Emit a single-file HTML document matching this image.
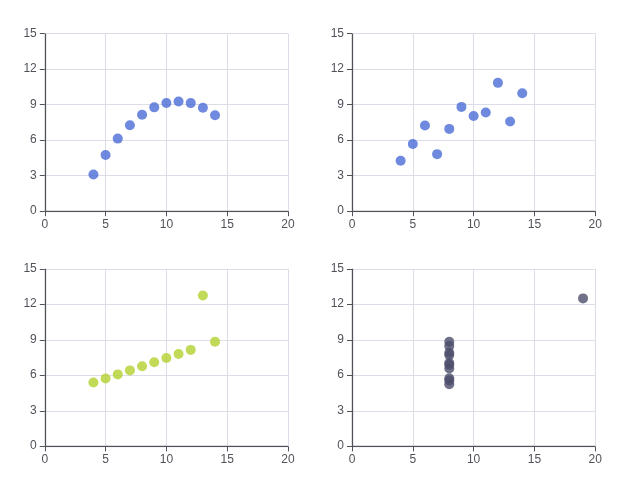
<!DOCTYPE html>
<html><head><meta charset="utf-8"><style>
html,body{margin:0;padding:0;background:#fff;}
svg{display:block;will-change:transform;}
text{font-family:"Liberation Sans",sans-serif;font-size:12px;fill:#50525A;}
</style></head><body>
<svg width="640" height="480" viewBox="0 0 640 480">
<rect width="640" height="480" fill="#fff"/>
<line x1="45.5" y1="33.6" x2="45.5" y2="211.2" stroke="#DCDDE6"/>
<line x1="105.5" y1="33.6" x2="105.5" y2="211.2" stroke="#DCDDE6"/>
<line x1="166.5" y1="33.6" x2="166.5" y2="211.2" stroke="#DCDDE6"/>
<line x1="227.5" y1="33.6" x2="227.5" y2="211.2" stroke="#DCDDE6"/>
<line x1="288.5" y1="33.6" x2="288.5" y2="211.2" stroke="#DCDDE6"/>
<line x1="44.8" y1="211.5" x2="288.0" y2="211.5" stroke="#DCDDE6"/>
<line x1="44.8" y1="175.5" x2="288.0" y2="175.5" stroke="#DCDDE6"/>
<line x1="44.8" y1="140.5" x2="288.0" y2="140.5" stroke="#DCDDE6"/>
<line x1="44.8" y1="104.5" x2="288.0" y2="104.5" stroke="#DCDDE6"/>
<line x1="44.8" y1="69.5" x2="288.0" y2="69.5" stroke="#DCDDE6"/>
<line x1="44.8" y1="33.5" x2="288.0" y2="33.5" stroke="#DCDDE6"/>
<line x1="44.5" y1="33.6" x2="44.5" y2="211.2" stroke="#50525A" stroke-opacity="0.18"/>
<line x1="46.5" y1="33.6" x2="46.5" y2="211.2" stroke="#50525A" stroke-opacity="0.12"/>
<line x1="44.8" y1="210.5" x2="288.0" y2="210.5" stroke="#50525A" stroke-opacity="0.2"/>
<line x1="44.8" y1="212.5" x2="288.0" y2="212.5" stroke="#50525A" stroke-opacity="0.06"/>
<line x1="45.5" y1="33.6" x2="45.5" y2="211.2" stroke="#50525A"/>
<line x1="44.8" y1="211.5" x2="288.0" y2="211.5" stroke="#50525A"/>
<line x1="45.5" y1="211.2" x2="45.5" y2="216.2" stroke="#50525A"/>
<text x="44.80" y="227.60" text-anchor="middle">0</text>
<line x1="105.5" y1="211.2" x2="105.5" y2="216.2" stroke="#50525A"/>
<text x="105.60" y="227.60" text-anchor="middle">5</text>
<line x1="166.5" y1="211.2" x2="166.5" y2="216.2" stroke="#50525A"/>
<text x="166.40" y="227.60" text-anchor="middle">10</text>
<line x1="227.5" y1="211.2" x2="227.5" y2="216.2" stroke="#50525A"/>
<text x="227.20" y="227.60" text-anchor="middle">15</text>
<line x1="288.5" y1="211.2" x2="288.5" y2="216.2" stroke="#50525A"/>
<text x="288.00" y="227.60" text-anchor="middle">20</text>
<line x1="39.8" y1="211.5" x2="44.8" y2="211.5" stroke="#50525A"/>
<text x="36.80" y="214.20" text-anchor="end">0</text>
<line x1="39.8" y1="175.5" x2="44.8" y2="175.5" stroke="#50525A"/>
<text x="36.80" y="178.68" text-anchor="end">3</text>
<line x1="39.8" y1="140.5" x2="44.8" y2="140.5" stroke="#50525A"/>
<text x="36.80" y="143.16" text-anchor="end">6</text>
<line x1="39.8" y1="104.5" x2="44.8" y2="104.5" stroke="#50525A"/>
<text x="36.80" y="107.64" text-anchor="end">9</text>
<line x1="39.8" y1="69.5" x2="44.8" y2="69.5" stroke="#50525A"/>
<text x="36.80" y="72.12" text-anchor="end">12</text>
<line x1="39.8" y1="33.5" x2="44.8" y2="33.5" stroke="#50525A"/>
<text x="36.80" y="36.60" text-anchor="end">15</text>
<circle cx="166.40" cy="102.98" r="5" fill="rgba(74,108,214,0.8)"/>
<circle cx="142.08" cy="114.82" r="5" fill="rgba(74,108,214,0.8)"/>
<circle cx="202.88" cy="107.72" r="5" fill="rgba(74,108,214,0.8)"/>
<circle cx="154.24" cy="107.36" r="5" fill="rgba(74,108,214,0.8)"/>
<circle cx="178.56" cy="101.56" r="5" fill="rgba(74,108,214,0.8)"/>
<circle cx="215.04" cy="115.30" r="5" fill="rgba(74,108,214,0.8)"/>
<circle cx="117.76" cy="138.62" r="5" fill="rgba(74,108,214,0.8)"/>
<circle cx="93.44" cy="174.50" r="5" fill="rgba(74,108,214,0.8)"/>
<circle cx="190.72" cy="103.10" r="5" fill="rgba(74,108,214,0.8)"/>
<circle cx="129.92" cy="125.24" r="5" fill="rgba(74,108,214,0.8)"/>
<circle cx="105.60" cy="155.08" r="5" fill="rgba(74,108,214,0.8)"/>
<line x1="352.5" y1="33.6" x2="352.5" y2="211.2" stroke="#DCDDE6"/>
<line x1="413.5" y1="33.6" x2="413.5" y2="211.2" stroke="#DCDDE6"/>
<line x1="473.5" y1="33.6" x2="473.5" y2="211.2" stroke="#DCDDE6"/>
<line x1="534.5" y1="33.6" x2="534.5" y2="211.2" stroke="#DCDDE6"/>
<line x1="595.5" y1="33.6" x2="595.5" y2="211.2" stroke="#DCDDE6"/>
<line x1="352" y1="211.5" x2="595.2" y2="211.5" stroke="#DCDDE6"/>
<line x1="352" y1="175.5" x2="595.2" y2="175.5" stroke="#DCDDE6"/>
<line x1="352" y1="140.5" x2="595.2" y2="140.5" stroke="#DCDDE6"/>
<line x1="352" y1="104.5" x2="595.2" y2="104.5" stroke="#DCDDE6"/>
<line x1="352" y1="69.5" x2="595.2" y2="69.5" stroke="#DCDDE6"/>
<line x1="352" y1="33.5" x2="595.2" y2="33.5" stroke="#DCDDE6"/>
<line x1="351.5" y1="33.6" x2="351.5" y2="211.2" stroke="#50525A" stroke-opacity="0.18"/>
<line x1="353.5" y1="33.6" x2="353.5" y2="211.2" stroke="#50525A" stroke-opacity="0.12"/>
<line x1="352" y1="210.5" x2="595.2" y2="210.5" stroke="#50525A" stroke-opacity="0.2"/>
<line x1="352" y1="212.5" x2="595.2" y2="212.5" stroke="#50525A" stroke-opacity="0.06"/>
<line x1="352.5" y1="33.6" x2="352.5" y2="211.2" stroke="#50525A"/>
<line x1="352" y1="211.5" x2="595.2" y2="211.5" stroke="#50525A"/>
<line x1="352.5" y1="211.2" x2="352.5" y2="216.2" stroke="#50525A"/>
<text x="352.00" y="227.60" text-anchor="middle">0</text>
<line x1="413.5" y1="211.2" x2="413.5" y2="216.2" stroke="#50525A"/>
<text x="412.80" y="227.60" text-anchor="middle">5</text>
<line x1="473.5" y1="211.2" x2="473.5" y2="216.2" stroke="#50525A"/>
<text x="473.60" y="227.60" text-anchor="middle">10</text>
<line x1="534.5" y1="211.2" x2="534.5" y2="216.2" stroke="#50525A"/>
<text x="534.40" y="227.60" text-anchor="middle">15</text>
<line x1="595.5" y1="211.2" x2="595.5" y2="216.2" stroke="#50525A"/>
<text x="595.20" y="227.60" text-anchor="middle">20</text>
<line x1="347" y1="211.5" x2="352" y2="211.5" stroke="#50525A"/>
<text x="344.00" y="214.20" text-anchor="end">0</text>
<line x1="347" y1="175.5" x2="352" y2="175.5" stroke="#50525A"/>
<text x="344.00" y="178.68" text-anchor="end">3</text>
<line x1="347" y1="140.5" x2="352" y2="140.5" stroke="#50525A"/>
<text x="344.00" y="143.16" text-anchor="end">6</text>
<line x1="347" y1="104.5" x2="352" y2="104.5" stroke="#50525A"/>
<text x="344.00" y="107.64" text-anchor="end">9</text>
<line x1="347" y1="69.5" x2="352" y2="69.5" stroke="#50525A"/>
<text x="344.00" y="72.12" text-anchor="end">12</text>
<line x1="347" y1="33.5" x2="352" y2="33.5" stroke="#50525A"/>
<text x="344.00" y="36.60" text-anchor="end">15</text>
<circle cx="473.60" cy="116.01" r="5" fill="rgba(74,108,214,0.8)"/>
<circle cx="449.28" cy="128.91" r="5" fill="rgba(74,108,214,0.8)"/>
<circle cx="510.08" cy="121.45" r="5" fill="rgba(74,108,214,0.8)"/>
<circle cx="461.44" cy="106.89" r="5" fill="rgba(74,108,214,0.8)"/>
<circle cx="485.76" cy="112.57" r="5" fill="rgba(74,108,214,0.8)"/>
<circle cx="522.24" cy="93.27" r="5" fill="rgba(74,108,214,0.8)"/>
<circle cx="424.96" cy="125.48" r="5" fill="rgba(74,108,214,0.8)"/>
<circle cx="400.64" cy="160.76" r="5" fill="rgba(74,108,214,0.8)"/>
<circle cx="497.92" cy="82.85" r="5" fill="rgba(74,108,214,0.8)"/>
<circle cx="437.12" cy="154.13" r="5" fill="rgba(74,108,214,0.8)"/>
<circle cx="412.80" cy="143.95" r="5" fill="rgba(74,108,214,0.8)"/>
<line x1="45.5" y1="268.8" x2="45.5" y2="446.4" stroke="#DCDDE6"/>
<line x1="105.5" y1="268.8" x2="105.5" y2="446.4" stroke="#DCDDE6"/>
<line x1="166.5" y1="268.8" x2="166.5" y2="446.4" stroke="#DCDDE6"/>
<line x1="227.5" y1="268.8" x2="227.5" y2="446.4" stroke="#DCDDE6"/>
<line x1="288.5" y1="268.8" x2="288.5" y2="446.4" stroke="#DCDDE6"/>
<line x1="44.8" y1="446.5" x2="288.0" y2="446.5" stroke="#DCDDE6"/>
<line x1="44.8" y1="411.5" x2="288.0" y2="411.5" stroke="#DCDDE6"/>
<line x1="44.8" y1="375.5" x2="288.0" y2="375.5" stroke="#DCDDE6"/>
<line x1="44.8" y1="340.5" x2="288.0" y2="340.5" stroke="#DCDDE6"/>
<line x1="44.8" y1="304.5" x2="288.0" y2="304.5" stroke="#DCDDE6"/>
<line x1="44.8" y1="269.5" x2="288.0" y2="269.5" stroke="#DCDDE6"/>
<line x1="44.5" y1="268.8" x2="44.5" y2="446.4" stroke="#50525A" stroke-opacity="0.18"/>
<line x1="46.5" y1="268.8" x2="46.5" y2="446.4" stroke="#50525A" stroke-opacity="0.12"/>
<line x1="44.8" y1="445.5" x2="288.0" y2="445.5" stroke="#50525A" stroke-opacity="0.2"/>
<line x1="44.8" y1="447.5" x2="288.0" y2="447.5" stroke="#50525A" stroke-opacity="0.06"/>
<line x1="45.5" y1="268.8" x2="45.5" y2="446.4" stroke="#50525A"/>
<line x1="44.8" y1="446.5" x2="288.0" y2="446.5" stroke="#50525A"/>
<line x1="45.5" y1="446.4" x2="45.5" y2="451.4" stroke="#50525A"/>
<text x="44.80" y="462.80" text-anchor="middle">0</text>
<line x1="105.5" y1="446.4" x2="105.5" y2="451.4" stroke="#50525A"/>
<text x="105.60" y="462.80" text-anchor="middle">5</text>
<line x1="166.5" y1="446.4" x2="166.5" y2="451.4" stroke="#50525A"/>
<text x="166.40" y="462.80" text-anchor="middle">10</text>
<line x1="227.5" y1="446.4" x2="227.5" y2="451.4" stroke="#50525A"/>
<text x="227.20" y="462.80" text-anchor="middle">15</text>
<line x1="288.5" y1="446.4" x2="288.5" y2="451.4" stroke="#50525A"/>
<text x="288.00" y="462.80" text-anchor="middle">20</text>
<line x1="39.8" y1="446.5" x2="44.8" y2="446.5" stroke="#50525A"/>
<text x="36.80" y="449.40" text-anchor="end">0</text>
<line x1="39.8" y1="411.5" x2="44.8" y2="411.5" stroke="#50525A"/>
<text x="36.80" y="413.88" text-anchor="end">3</text>
<line x1="39.8" y1="375.5" x2="44.8" y2="375.5" stroke="#50525A"/>
<text x="36.80" y="378.36" text-anchor="end">6</text>
<line x1="39.8" y1="340.5" x2="44.8" y2="340.5" stroke="#50525A"/>
<text x="36.80" y="342.84" text-anchor="end">9</text>
<line x1="39.8" y1="304.5" x2="44.8" y2="304.5" stroke="#50525A"/>
<text x="36.80" y="307.32" text-anchor="end">12</text>
<line x1="39.8" y1="269.5" x2="44.8" y2="269.5" stroke="#50525A"/>
<text x="36.80" y="271.80" text-anchor="end">15</text>
<circle cx="166.40" cy="358.07" r="5" fill="rgba(178,209,46,0.8)"/>
<circle cx="142.08" cy="366.24" r="5" fill="rgba(178,209,46,0.8)"/>
<circle cx="202.88" cy="295.56" r="5" fill="rgba(178,209,46,0.8)"/>
<circle cx="154.24" cy="362.22" r="5" fill="rgba(178,209,46,0.8)"/>
<circle cx="178.56" cy="353.93" r="5" fill="rgba(178,209,46,0.8)"/>
<circle cx="215.04" cy="341.73" r="5" fill="rgba(178,209,46,0.8)"/>
<circle cx="117.76" cy="374.41" r="5" fill="rgba(178,209,46,0.8)"/>
<circle cx="93.44" cy="382.58" r="5" fill="rgba(178,209,46,0.8)"/>
<circle cx="190.72" cy="349.90" r="5" fill="rgba(178,209,46,0.8)"/>
<circle cx="129.92" cy="370.39" r="5" fill="rgba(178,209,46,0.8)"/>
<circle cx="105.60" cy="378.56" r="5" fill="rgba(178,209,46,0.8)"/>
<line x1="352.5" y1="268.8" x2="352.5" y2="446.4" stroke="#DCDDE6"/>
<line x1="413.5" y1="268.8" x2="413.5" y2="446.4" stroke="#DCDDE6"/>
<line x1="473.5" y1="268.8" x2="473.5" y2="446.4" stroke="#DCDDE6"/>
<line x1="534.5" y1="268.8" x2="534.5" y2="446.4" stroke="#DCDDE6"/>
<line x1="595.5" y1="268.8" x2="595.5" y2="446.4" stroke="#DCDDE6"/>
<line x1="352" y1="446.5" x2="595.2" y2="446.5" stroke="#DCDDE6"/>
<line x1="352" y1="411.5" x2="595.2" y2="411.5" stroke="#DCDDE6"/>
<line x1="352" y1="375.5" x2="595.2" y2="375.5" stroke="#DCDDE6"/>
<line x1="352" y1="340.5" x2="595.2" y2="340.5" stroke="#DCDDE6"/>
<line x1="352" y1="304.5" x2="595.2" y2="304.5" stroke="#DCDDE6"/>
<line x1="352" y1="269.5" x2="595.2" y2="269.5" stroke="#DCDDE6"/>
<line x1="351.5" y1="268.8" x2="351.5" y2="446.4" stroke="#50525A" stroke-opacity="0.18"/>
<line x1="353.5" y1="268.8" x2="353.5" y2="446.4" stroke="#50525A" stroke-opacity="0.12"/>
<line x1="352" y1="445.5" x2="595.2" y2="445.5" stroke="#50525A" stroke-opacity="0.2"/>
<line x1="352" y1="447.5" x2="595.2" y2="447.5" stroke="#50525A" stroke-opacity="0.06"/>
<line x1="352.5" y1="268.8" x2="352.5" y2="446.4" stroke="#50525A"/>
<line x1="352" y1="446.5" x2="595.2" y2="446.5" stroke="#50525A"/>
<line x1="352.5" y1="446.4" x2="352.5" y2="451.4" stroke="#50525A"/>
<text x="352.00" y="462.80" text-anchor="middle">0</text>
<line x1="413.5" y1="446.4" x2="413.5" y2="451.4" stroke="#50525A"/>
<text x="412.80" y="462.80" text-anchor="middle">5</text>
<line x1="473.5" y1="446.4" x2="473.5" y2="451.4" stroke="#50525A"/>
<text x="473.60" y="462.80" text-anchor="middle">10</text>
<line x1="534.5" y1="446.4" x2="534.5" y2="451.4" stroke="#50525A"/>
<text x="534.40" y="462.80" text-anchor="middle">15</text>
<line x1="595.5" y1="446.4" x2="595.5" y2="451.4" stroke="#50525A"/>
<text x="595.20" y="462.80" text-anchor="middle">20</text>
<line x1="347" y1="446.5" x2="352" y2="446.5" stroke="#50525A"/>
<text x="344.00" y="449.40" text-anchor="end">0</text>
<line x1="347" y1="411.5" x2="352" y2="411.5" stroke="#50525A"/>
<text x="344.00" y="413.88" text-anchor="end">3</text>
<line x1="347" y1="375.5" x2="352" y2="375.5" stroke="#50525A"/>
<text x="344.00" y="378.36" text-anchor="end">6</text>
<line x1="347" y1="340.5" x2="352" y2="340.5" stroke="#50525A"/>
<text x="344.00" y="342.84" text-anchor="end">9</text>
<line x1="347" y1="304.5" x2="352" y2="304.5" stroke="#50525A"/>
<text x="344.00" y="307.32" text-anchor="end">12</text>
<line x1="347" y1="269.5" x2="352" y2="269.5" stroke="#50525A"/>
<text x="344.00" y="271.80" text-anchor="end">15</text>
<circle cx="449.28" cy="368.49" r="5" fill="rgba(76,78,108,0.8)"/>
<circle cx="449.28" cy="378.20" r="5" fill="rgba(76,78,108,0.8)"/>
<circle cx="449.28" cy="355.11" r="5" fill="rgba(76,78,108,0.8)"/>
<circle cx="449.28" cy="341.73" r="5" fill="rgba(76,78,108,0.8)"/>
<circle cx="449.28" cy="346.12" r="5" fill="rgba(76,78,108,0.8)"/>
<circle cx="449.28" cy="363.05" r="5" fill="rgba(76,78,108,0.8)"/>
<circle cx="449.28" cy="384.24" r="5" fill="rgba(76,78,108,0.8)"/>
<circle cx="583.04" cy="298.40" r="5" fill="rgba(76,78,108,0.8)"/>
<circle cx="449.28" cy="380.57" r="5" fill="rgba(76,78,108,0.8)"/>
<circle cx="449.28" cy="352.75" r="5" fill="rgba(76,78,108,0.8)"/>
<circle cx="449.28" cy="364.82" r="5" fill="rgba(76,78,108,0.8)"/>
</svg>
</body></html>
